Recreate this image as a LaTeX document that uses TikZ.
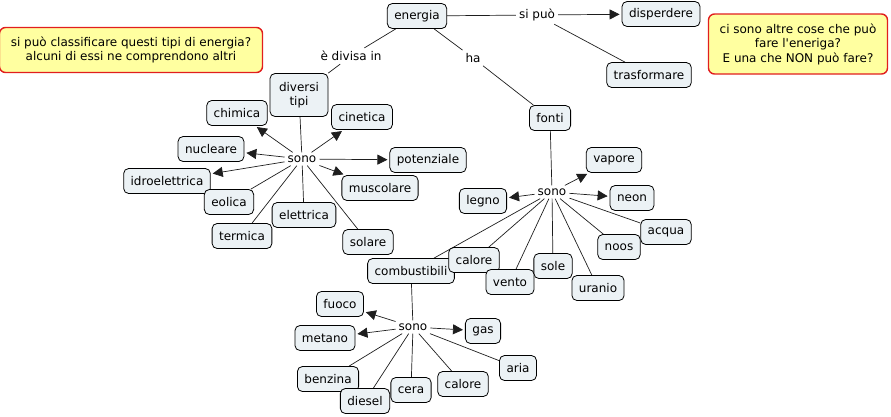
\documentclass[tikz,border=0pt]{standalone}
\usepackage{fontspec}
\setmainfont{DejaVu Sans}[Ligatures=TeXOff]
\usetikzlibrary{positioning}
\usetikzlibrary{arrows.meta}
\usetikzlibrary{backgrounds}
\definecolor{conceptfill}{RGB}{236,242,245}
\definecolor{notefill}{RGB}{255,255,160}
\definecolor{noteline}{RGB}{225,30,30}
\definecolor{linkline}{RGB}{30,30,30}
\tikzset{concept/.style={rectangle,rounded corners=5pt,draw=black,fill=conceptfill,
line width=0.8pt,inner xsep=7pt,inner ysep=2pt,minimum height=25pt,align=center,
font=\fontsize{12}{14}\selectfont}}
\tikzset{note/.style={rectangle,rounded corners=6pt,draw=noteline,fill=notefill,
line width=1.4pt,inner sep=4pt,align=center,font=\fontsize{12}{14.5}\selectfont}}
\tikzset{linkword/.style={rectangle,draw=none,inner sep=3pt,
font=\fontsize{12}{14}\selectfont}}
\tikzset{link/.style={draw=linkline,line width=0.7pt}}
\tikzset{linkto/.style={link,-{Triangle[length=10pt,width=10pt]},shorten >=2pt}}

\begin{document}
\begin{tikzpicture}[x=1pt,y=-1pt]
    \useasboundingbox (0,0) rectangle (891,416);

    \node[note,minimum width=263pt,minimum height=45pt] (noteLeft) at (131,50)
        {si può classificare questi tipi di energia?\\alcuni di essi ne comprendono altri};
    \node[note,minimum width=179pt,minimum height=60pt] (noteRight) at (798,44)
        {ci sono altre cose che può\\fare l'eneriga?\\E una che NON può fare?};

    \node[concept] (boxEnergia) at (417,16) {energia};
    \node[concept] (boxDisperdere) at (661,14) {disperdere};
    \node[concept] (boxTrasformare) at (649,75) {trasformare};
    \node[linkword] (lblSipuo) at (537,15) {si può};
    \node[linkword] (lblDivisa) at (351,56) {è divisa in};
    \node[linkword] (lblHa) at (473,58) {ha};

    \node[concept,minimum height=43pt,minimum width=58pt] (boxDiversi) at (299,95) {diversi\\tipi};
    \node[linkword] (lblSonoTipi) at (302,159) {sono};
    \node[concept] (boxChimica) at (237,113) {chimica};
    \node[concept] (boxCinetica) at (362,117) {cinetica};
    \node[concept] (boxNucleare) at (211,149) {nucleare};
    \node[concept] (boxPotenziale) at (428,160) {potenziale};
    \node[concept] (boxIdro) at (167,181) {idroelettrica};
    \node[concept] (boxMuscolare) at (380,188) {muscolare};
    \node[concept] (boxEolica) at (229,202) {eolica};
    \node[concept] (boxElettrica) at (304,215) {elettrica};
    \node[concept] (boxTermica) at (242,236) {termica};
    \node[concept] (boxSolare) at (368,242) {solare};

    \node[concept] (boxFonti) at (550,118) {fonti};
    \node[linkword] (lblSonoFonti) at (552,192) {sono};
    \node[concept] (boxVapore) at (614,160) {vapore};
    \node[concept] (boxLegno) at (483,201) {legno};
    \node[concept] (boxNeon) at (632,198) {neon};
    \node[concept] (boxAcqua) at (666,232) {acqua};
    \node[concept] (boxNoos) at (619,247) {noos};
    \node[concept] (boxCombustibili) at (411,271) {combustibili};
    \node[concept] (boxCaloreF) at (474,260) {calore};
    \node[concept] (boxSole) at (553,266) {sole};
    \node[concept] (boxVento) at (510,282) {vento};
    \node[concept] (boxUranio) at (598,288) {uranio};

    \node[linkword] (lblSonoComb) at (413,327) {sono};
    \node[concept] (boxFuoco) at (340,304) {fuoco};
    \node[concept] (boxGas) at (483,331) {gas};
    \node[concept] (boxMetano) at (325,338) {metano};
    \node[concept] (boxAria) at (518,368) {aria};
    \node[concept] (boxBenzina) at (328,379) {benzina};
    \node[concept] (boxCera) at (411,390) {cera};
    \node[concept] (boxCaloreC) at (463,384) {calore};
    \node[concept] (boxDiesel) at (365,401) {diesel};

    \begin{scope}[on background layer]
        \draw[link] (boxEnergia) -- (lblSipuo);
        \draw[linkto] (lblSipuo) -- (boxDisperdere);
        \draw[link] (lblSipuo) -- (boxTrasformare);
        \draw[link] (boxEnergia) -- (lblDivisa);
        \draw[link] (lblDivisa) -- (boxDiversi);
        \draw[link] (boxEnergia) -- (lblHa);
        \draw[link] (lblHa) -- (boxFonti);

        \draw[link] (boxDiversi) -- (lblSonoTipi);
        \foreach \target in {boxChimica,boxCinetica,boxNucleare,boxPotenziale,boxIdro,boxMuscolare}
            \draw[linkto] (lblSonoTipi) -- (\target);
        \foreach \target in {boxEolica,boxElettrica,boxTermica,boxSolare}
            \draw[link] (lblSonoTipi) -- (\target);

        \draw[link] (boxFonti) -- (lblSonoFonti);
        \foreach \target in {boxVapore,boxLegno,boxNeon}
            \draw[linkto] (lblSonoFonti) -- (\target);
        \foreach \target in {boxAcqua,boxNoos,boxCaloreF,boxSole,boxCombustibili,boxVento,boxUranio}
            \draw[link] (lblSonoFonti) -- (\target);

        \draw[link] (boxCombustibili) -- (lblSonoComb);
        \foreach \target in {boxFuoco,boxGas,boxMetano}
            \draw[linkto] (lblSonoComb) -- (\target);
        \foreach \target in {boxAria,boxBenzina,boxCera,boxCaloreC,boxDiesel}
            \draw[link] (lblSonoComb) -- (\target);
    \end{scope}
\end{tikzpicture}
\end{document}
